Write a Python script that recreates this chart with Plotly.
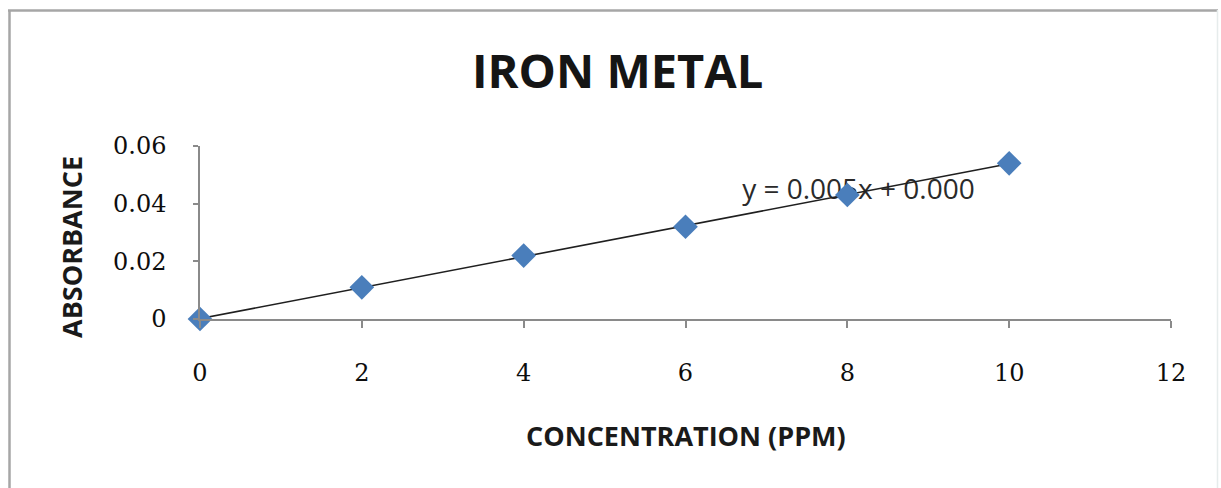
import numpy as np
import plotly.graph_objects as go

# Calibration data: iron standard concentrations and measured absorbance
concentration_ppm = [0, 2, 4, 6, 8, 10]
absorbance = [0.0, 0.011, 0.022, 0.032, 0.043, 0.054]

x_ticks = [0, 2, 4, 6, 8, 10, 12]
y_ticks = [0, 0.02, 0.04, 0.06]
y_tick_labels = ["0", "0.02", "0.04", "0.06"]

equation_text = "y = 0.005x + 0.000"

W, H = 1221, 488
L, R, T, B = 200, 50, 146, 169
PW, PH = W - L - R, H - T - B


def px_x(p):
    return (p - L) / PW


def px_y(p):
    return (H - B - p) / PH


# Linear least-squares trendline through the standards
slope, intercept = np.polyfit(concentration_ppm, absorbance, 1)
fit_x = [min(concentration_ppm), max(concentration_ppm)]
fit_y = [slope * v + intercept for v in fit_x]

fig = go.Figure()

# Trendline equation, drawn beneath the line and markers
fig.add_trace(go.Scatter(
    x=[6.70], y=[0.0442], mode="text", text=[equation_text],
    textposition="middle right",
    textfont=dict(family="Open Sans", size=28, color="#2a2a2a"),
    hoverinfo="skip", showlegend=False, cliponaxis=False,
))

fig.add_trace(go.Scatter(
    x=fit_x, y=fit_y, mode="lines",
    line=dict(color="#1f1f1f", width=1.6),
    hoverinfo="skip", showlegend=False, cliponaxis=False,
))

fig.add_trace(go.Scatter(
    x=concentration_ppm, y=absorbance, mode="markers",
    marker=dict(symbol="diamond", size=19, color="#4a7ebb",
                line=dict(width=0)),
    showlegend=False, cliponaxis=False,
))

axis_font = dict(family="DejaVu Serif", size=24, color="#0d0d0d")

fig.update_xaxes(
    range=[0, 12], tickvals=x_ticks, ticktext=[str(v) for v in x_ticks],
    showgrid=False, zeroline=False,
    showline=True, linecolor="#8a8a8a", linewidth=1.5,
    ticks="outside", ticklen=7, tickcolor="#8a8a8a", tickwidth=1.5,
    tickfont=axis_font, ticklabelstandoff=24,
)
fig.update_yaxes(
    range=[0, 0.06], tickvals=y_ticks, ticktext=y_tick_labels,
    showgrid=False, zeroline=False,
    showline=True, linecolor="#8a8a8a", linewidth=1.5,
    ticks="outside", ticklen=5, tickcolor="#8a8a8a", tickwidth=1.5,
    tickfont=axis_font, ticklabelstandoff=22,
)

title_font = dict(family="Open Sans", size=27, color="#1a1a1a")

annotations = [
    dict(text="<b>IRON METAL</b>", xref="paper", yref="paper",
         x=px_x(617), y=px_y(70), xanchor="center", yanchor="middle",
         showarrow=False,
         font=dict(family="Open Sans", size=47, color="#151515")),
    dict(text="<b>CONCENTRATION (PPM)</b>", xref="paper", yref="paper",
         x=px_x(686), y=px_y(435), xanchor="center", yanchor="middle",
         showarrow=False, font=title_font),
    dict(text="<b>ABSORBANCE</b>", xref="paper", yref="paper",
         x=px_x(71), y=px_y(247), xanchor="center", yanchor="middle",
         textangle=-90, showarrow=False, font=title_font),
]

# Chart frame: gray left and top edges, faint right edge
shapes = [
    dict(type="line", xref="paper", yref="paper",
         x0=px_x(9.5), x1=px_x(9.5), y0=px_y(10), y1=px_y(500),
         line=dict(color="#a6a6a6", width=2.5)),
    dict(type="line", xref="paper", yref="paper",
         x0=px_x(8), x1=px_x(1218), y0=px_y(10.5), y1=px_y(10.5),
         line=dict(color="#a6a6a6", width=2.5)),
    dict(type="line", xref="paper", yref="paper",
         x0=px_x(1217.5), x1=px_x(1217.5), y0=px_y(10), y1=px_y(500),
         line=dict(color="#e6ecec", width=1.5)),
]

fig.update_layout(
    width=W, height=H, autosize=False,
    margin=dict(l=L, r=R, t=T, b=B, pad=0),
    paper_bgcolor="white", plot_bgcolor="white",
    annotations=annotations, shapes=shapes,
    showlegend=False,
)

fig.write_html("out.html")
